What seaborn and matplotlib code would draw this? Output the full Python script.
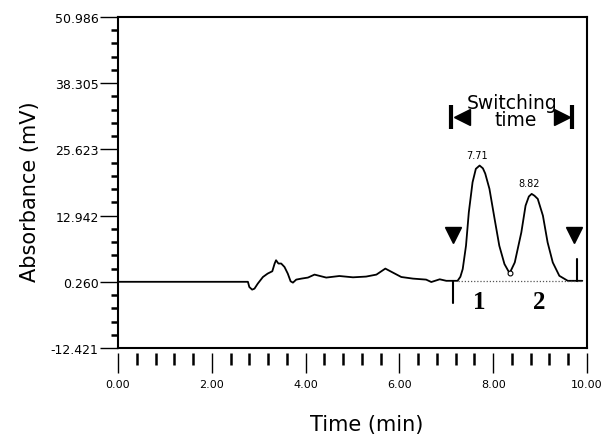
import numpy as np
import pandas as pd
import matplotlib
matplotlib.use("Agg")
import matplotlib.pyplot as plt
from matplotlib.ticker import FixedLocator, MultipleLocator
import seaborn as sns

# Chromatogram trace (time in min, absorbance in mV)
time_min = [0.00, 2.77, 2.80, 2.86, 2.91, 2.98, 3.09, 3.19, 3.29, 3.34, 3.37,
            3.42, 3.48, 3.55, 3.62, 3.68, 3.73, 3.80, 3.91, 4.05, 4.19, 4.44,
            4.72, 5.01, 5.29, 5.51, 5.70, 5.86, 6.04, 6.29, 6.57, 6.68, 6.86,
            7.00, 7.24, 7.30, 7.35, 7.42, 7.48, 7.56, 7.63, 7.71, 7.78, 7.83,
            7.92, 8.03, 8.13, 8.24, 8.35, 8.46, 8.60, 8.69, 8.76, 8.82, 8.88,
            8.95, 9.06, 9.16, 9.27, 9.41, 9.59, 9.90]
absorbance = [0.26, 0.26, -0.74, -1.24, -1.05, -0.09, 1.18, 1.83, 2.28, 3.76, 4.39,
              3.76, 3.76, 3.10, 1.83, 0.36, 0.10, 0.68, 0.87, 1.07, 1.64, 1.07,
              1.37, 1.12, 1.26, 1.64, 2.79, 2.03, 1.18, 0.87, 0.68, 0.22, 0.74,
              0.45, 0.45, 1.22, 2.70, 7.17, 13.57, 19.33, 21.90, 22.53, 22.00, 21.00,
              18.06, 12.30, 7.17, 3.66, 1.89, 3.97, 9.73, 14.85, 16.60, 17.10, 16.75,
              16.14, 12.93, 7.81, 3.97, 1.41, 0.45, 0.45]

# Peaks
peak_times = [7.71, 8.82]
peak_heights = [22.53, 17.10]
peak_names = ["1", "2"]

# Integration baseline and switching window
baseline_level = 0.45
integration_start, integration_end = 7.24, 9.90
switch_start, switch_end = 7.14, 9.79

# Axis ticks
x_ticks = [0, 2, 4, 6, 8, 10]
x_tick_labels = ["0.00", "2.00", "4.00", "6.00", "8.00", "10.00"]
y_ticks = [-12.421, 0.260, 12.942, 25.623, 38.305, 50.986]
y_tick_labels = ["-12.421", "0.260", "12.942", "25.623", "38.305", "50.986"]

sns.set_style("ticks")
plt.rcParams.update({
    "font.family": ["DejaVu Sans"],
    "text.color": "black", "axes.labelcolor": "black",
    "xtick.labelcolor": "black", "ytick.labelcolor": "black",
    "ytick.major.size": 13, "ytick.major.width": 1, "ytick.major.pad": 1,
    "ytick.minor.size": 5, "ytick.minor.width": 1.8,
    "xtick.major.size": 14.4, "xtick.major.width": 1, "xtick.major.pad": 4,
    "xtick.minor.size": 8.6, "xtick.minor.width": 1.8,
    "xtick.direction": "out", "ytick.direction": "out",
    "xtick.color": "black", "ytick.color": "black",
    "xtick.labelsize": 8, "ytick.labelsize": 9,
})

df = pd.DataFrame({"Time (min)": time_min, "Absorbance (mV)": absorbance})

fig = plt.figure(figsize=(6.04, 4.39), dpi=100)
ax = fig.add_axes([118 / 604, 1 - 349 / 439, 469 / 604, 331 / 439])

sns.lineplot(data=df, x="Time (min)", y="Absorbance (mV)", ax=ax,
             color="black", linewidth=1.3, sort=False, estimator=None)

# dotted integration baseline under the peaks
ax.plot([integration_start, integration_end], [baseline_level, baseline_level],
        color="#555555", linestyle=(0, (1, 1.5)), linewidth=0.9)
# valley drop marker
ax.plot([8.35], [1.89], marker="o", ms=3.5, mfc="white", mec="black", mew=0.8)

# switching window markers
ax.plot([switch_start, switch_start], [baseline_level, -3.8], color="black", lw=1.5)
ax.plot([switch_end, switch_end], [baseline_level, 4.7], color="black", lw=1.5)
ax.plot([7.14, 9.73], [9.2, 9.2], linestyle="none", marker="v", ms=12, color="black")

# peak labels
for t, h in zip(peak_times, peak_heights):
    ax.text(t - 0.05, h + 2.0, f"{t:.2f}", ha="center", va="center",
            fontsize=7, color="black")
for t, name in zip([7.70, 8.98], peak_names):
    ax.text(t, -3.6, name, ha="center", va="center", fontsize=18, color="black",
            fontweight="bold", family=["Liberation Serif", "DejaVu Serif"])

# "Switching time" bracket
ax.plot([7.10, 7.10], [29.6, 34.1], color="black", lw=3, solid_capstyle="butt")
ax.plot([9.69, 9.69], [29.6, 34.1], color="black", lw=3, solid_capstyle="butt")
ax.plot([7.33], [31.8], marker="<", ms=12, color="black", linestyle="none")
ax.plot([9.47], [31.8], marker=">", ms=12, color="black", linestyle="none")
ax.text(8.40, 33.6, "Switching", ha="center", va="baseline", fontsize=13.5,
        color="black")
ax.text(8.49, 30.3, "time", ha="center", va="baseline", fontsize=13.5,
        color="black")

# limits and ticks
ax.set_xlim(0, 10)
ax.set_ylim(y_ticks[0], y_ticks[-1])
ax.set_xticks(x_ticks)
ax.set_xticklabels(x_tick_labels)
ax.set_yticks(y_ticks)
ax.set_yticklabels(y_tick_labels)
ax.xaxis.set_minor_locator(MultipleLocator(0.4))
ax.yaxis.set_minor_locator(FixedLocator(np.linspace(y_ticks[0], y_ticks[-1], 26)))

ax.tick_params(axis="y", which="major", length=13, width=1, pad=1)
ax.tick_params(axis="y", which="minor", length=5, width=1.8)
ax.tick_params(axis="x", which="major", length=14.4, width=1, pad=4)
ax.tick_params(axis="x", which="minor", length=8.6, width=1.8)

for side in ["left", "top", "right"]:
    ax.spines[side].set_linewidth(1.5)
    ax.spines[side].set_color("black")
# tick row sits a little below the frame
ax.spines["bottom"].set_position(("outward", 3.6))
ax.spines["bottom"].set_visible(False)
ax.plot([0, 1], [0, 0], transform=ax.transAxes, color="black", lw=1.5,
        clip_on=False, solid_capstyle="projecting")

ax.set_xlabel("Time (min)", fontsize=15, color="black")
ax.set_ylabel("Absorbance (mV)", fontsize=15, color="black")
ax.xaxis.set_label_coords(0.53, -0.23)
ax.xaxis.label.set_va("center")
ax.yaxis.set_label_coords(-0.188, 0.476)
ax.yaxis.label.set_va("center")

fig.savefig("out.png", dpi=100, facecolor="white")
